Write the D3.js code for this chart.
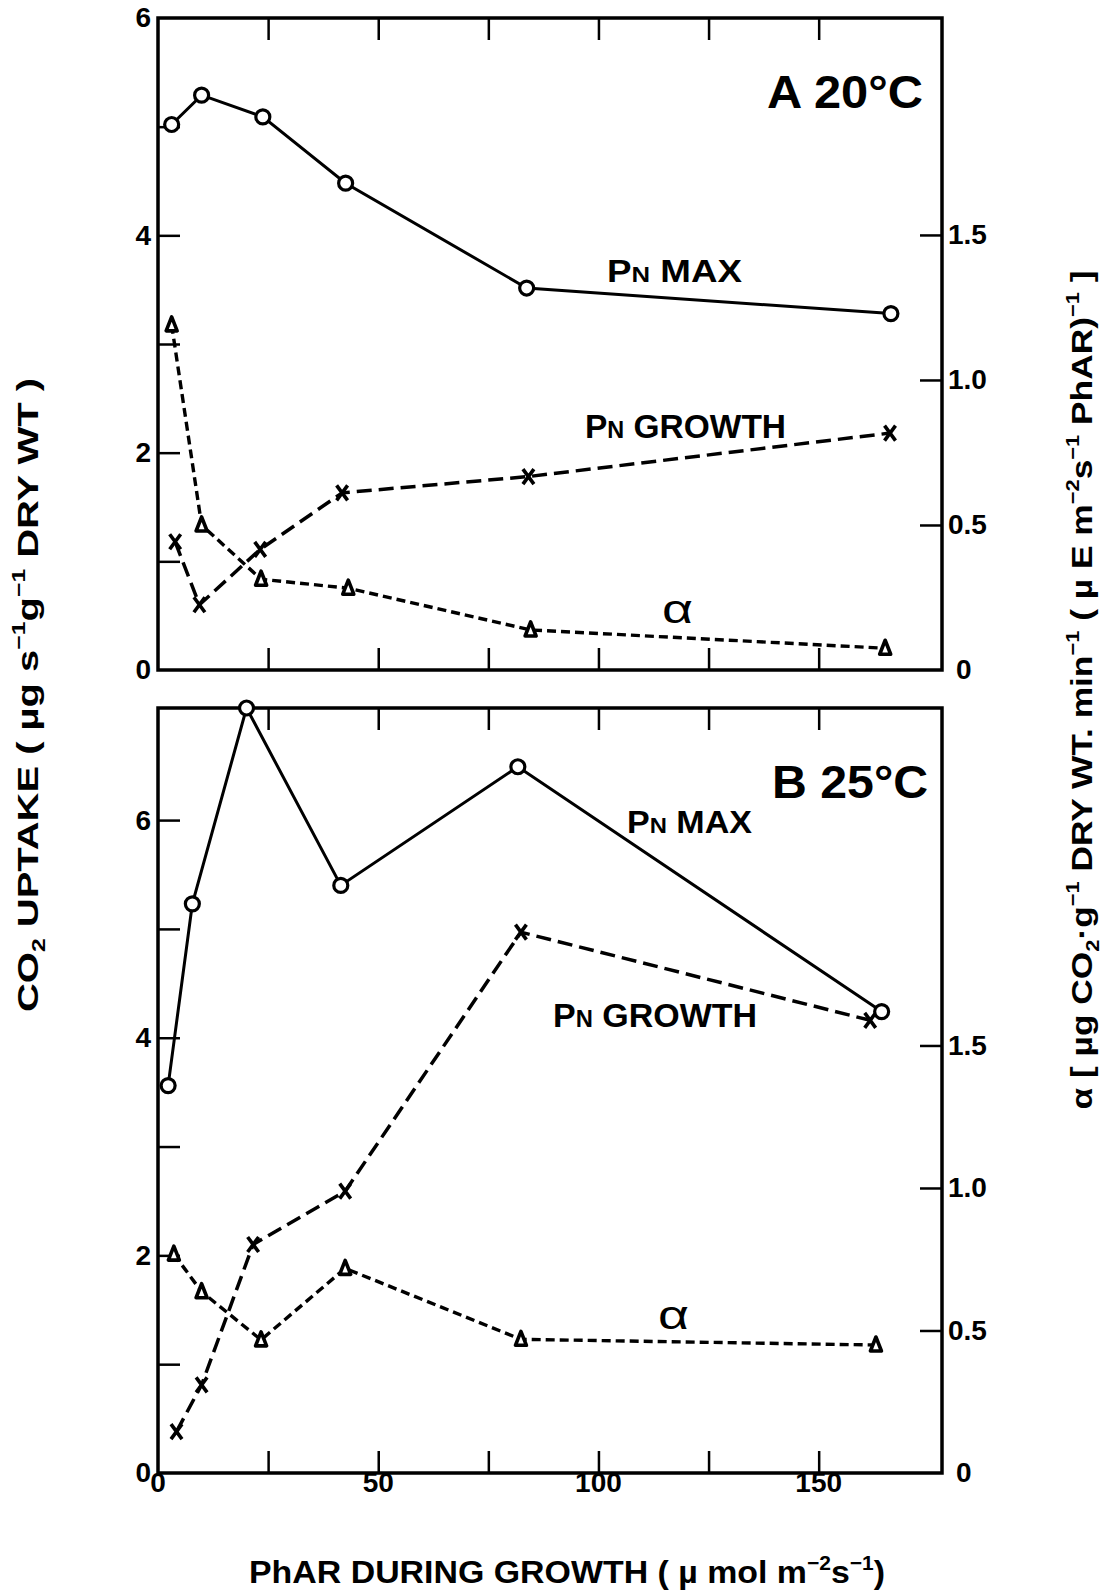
<!DOCTYPE html>
<html>
<head>
<meta charset="utf-8">
<script src="https://cdn.jsdelivr.net/npm/d3@7"></script>
<style>
  html, body { margin: 0; padding: 0; background: #fff; }
  svg { display: block; }
  text { font-family: "Liberation Sans", Arial, Helvetica, sans-serif; fill: #000; }
</style>
</head>
<body>
<svg id="chart" width="1107" height="1595"></svg>
<script>
// ---- Panel A (20 °C) ----
const pharA_pnMax    = [3.1, 9.9, 23.8, 42.6, 83.7, 166.4];
const pnMaxA         = [5.02, 5.29, 5.09, 4.48, 3.515, 3.28];
const pharA_pnGrowth = [3.9, 9.4, 23.2, 41.8, 84.1, 166.2];
const pnGrowthA      = [1.18, 0.60, 1.11, 1.63, 1.78, 2.18];
const pharA_alpha    = [3.1, 9.9, 23.4, 43.2, 84.6, 165.1];
const alphaA         = [1.19, 0.50, 0.313, 0.282, 0.138, 0.075];

// ---- Panel B (25 °C) ----
const pharB_pnMax    = [2.3, 7.8, 20.1, 41.5, 81.7, 164.3];
const pnMaxB         = [3.56, 5.23, 7.03, 5.40, 6.49, 4.24];
const pharB_pnGrowth = [4.2, 9.9, 21.6, 42.5, 82.4, 161.7];
const pnGrowthB      = [0.38, 0.81, 2.10, 2.59, 4.97, 4.16];
const pharB_alpha    = [3.6, 9.9, 23.4, 42.5, 82.4, 163.0];
const alphaB         = [0.768, 0.636, 0.467, 0.718, 0.469, 0.449];

// ---- ticks ----
const pharTicks      = [25, 50, 75, 100, 125, 150];
const pharLabels     = [0, 50, 100, 150];
const uptakeTicks    = [0, 1, 2, 3, 4, 5, 6];
const uptakeLabels   = [0, 2, 4, 6];
const alphaTicks     = [0, 0.5, 1.0, 1.5];
const alphaLabels    = ["0", "0.5", "1.0", "1.5"];

const svg = d3.select("#chart");

const X0 = 158, X1 = 942;
const x = d3.scaleLinear().domain([0, 178]).range([X0, X1]);

const panels = [
  { top: 18, bottom: 670, leftMax: 6, rightMax: 2.248,
    title: ["A", "20°C"], titleX: 767, titleY: 108,
    pnMax: [pharA_pnMax, pnMaxA], pnGrowth: [pharA_pnGrowth, pnGrowthA], alpha: [pharA_alpha, alphaA],
    maxLab: [607, 282, 135], growLab: [585, 438, 201], alphaLab: [662, 623] },
  { top: 708, bottom: 1473, leftMax: 7.03, rightMax: 2.684,
    title: ["B", "25°C"], titleX: 772, titleY: 798,
    pnMax: [pharB_pnMax, pnMaxB], pnGrowth: [pharB_pnGrowth, pnGrowthB], alpha: [pharB_alpha, alphaB],
    maxLab: [627, 833, 125], growLab: [553, 1027, 204], alphaLab: [658, 1329] }
];

const TICK = 22;
const TICK_FONT = 28;

function richText(sel, parts, size) {
  // parts: [string, kind] with kind "n" | "sup" | "sub" | "sc"
  let shift = 0;
  parts.forEach(([str, kind]) => {
    const t = sel.append("tspan").text(str);
    let target = 0, fs = size;
    if (kind === "sup") { target = -0.42 * size; fs = 0.62 * size; }
    else if (kind === "sub") { target = 0.22 * size; fs = 0.62 * size; }
    else if (kind === "sc") { fs = 0.7 * size; }
    t.attr("font-size", fs).attr("dy", target - shift);
    shift = target;
  });
}

function styleTickText(axisG) {
  axisG.selectAll(".tick text")
    .attr("font-size", TICK_FONT).attr("font-weight", "bold")
    .style("font-family", "'Liberation Sans', Arial, sans-serif").attr("fill", "#000");
}

panels.forEach((p, i) => {
  const yL = d3.scaleLinear().domain([0, p.leftMax]).range([p.bottom, p.top]);
  const yR = d3.scaleLinear().domain([0, p.rightMax]).range([p.bottom, p.top]);
  const g = svg.append("g");

  // left axis (ticks point inward)
  const left = g.append("g").attr("transform", `translate(${X0},0)`)
    .call(d3.axisLeft(yL).tickValues(uptakeTicks).tickSizeInner(-TICK).tickSizeOuter(0).tickPadding(7)
      .tickFormat(d => uptakeLabels.includes(d) ? String(d) : ""));
  left.select(".domain").remove();
  left.selectAll(".tick line").attr("stroke", "#000").attr("stroke-width", 2.5);
  styleTickText(left);
  left.selectAll(".tick").filter(d => d === 0 || (d === 6 && i === 0)).select("line").remove();

  // right axis (alpha)
  const right = g.append("g").attr("transform", `translate(${X1},0)`)
    .call(d3.axisRight(yR).tickValues(alphaTicks).tickSizeInner(-TICK).tickSizeOuter(0).tickPadding(6)
      .tickFormat((d, k) => alphaLabels[k]));
  right.select(".domain").remove();
  right.selectAll(".tick line").attr("stroke", "#000").attr("stroke-width", 2.5);
  styleTickText(right);
  right.selectAll(".tick").filter(d => d === 0).select("line").remove();
  right.selectAll(".tick").filter(d => d === 0).select("text").attr("x", 14);

  // top and bottom x ticks
  const top = g.append("g").attr("transform", `translate(0,${p.top})`)
    .call(d3.axisTop(x).tickValues(pharTicks).tickSizeInner(-TICK).tickSizeOuter(0).tickFormat(""));
  top.select(".domain").remove();
  top.selectAll(".tick line").attr("stroke", "#000").attr("stroke-width", 2.5);

  const bottom = g.append("g").attr("transform", `translate(0,${p.bottom})`)
    .call(d3.axisBottom(x).tickValues(pharTicks).tickSizeInner(-TICK).tickSizeOuter(0).tickFormat(""));
  bottom.select(".domain").remove();
  bottom.selectAll(".tick line").attr("stroke", "#000").attr("stroke-width", 2.5);

  if (i === 1) {
    g.append("g").selectAll("text").data(pharLabels).join("text")
      .attr("x", d => x(d)).attr("y", p.bottom + 19)
      .attr("text-anchor", "middle").attr("font-size", TICK_FONT).attr("font-weight", "bold")
      .text(d => d);
  }

  // frame
  g.append("rect").attr("x", X0).attr("y", p.top)
    .attr("width", X1 - X0).attr("height", p.bottom - p.top)
    .attr("fill", "none").attr("stroke", "#000").attr("stroke-width", 3.5);

  const zip = (xs, ys) => xs.map((v, k) => [v, ys[k]]);
  const lineL = d3.line().x(d => x(d[0])).y(d => yL(d[1]));
  const lineR = d3.line().x(d => x(d[0])).y(d => yR(d[1]));

  const alphaPts = zip(p.alpha[0], p.alpha[1]);
  const growPts = zip(p.pnGrowth[0], p.pnGrowth[1]);
  const maxPts = zip(p.pnMax[0], p.pnMax[1]);

  // alpha: short dashes
  g.append("path").attr("d", lineR(alphaPts)).attr("fill", "none")
    .attr("stroke", "#000").attr("stroke-width", 3.4).attr("stroke-dasharray", "9,5");
  // Pn growth: long dashes
  g.append("path").attr("d", lineL(growPts)).attr("fill", "none")
    .attr("stroke", "#000").attr("stroke-width", 3.5).attr("stroke-dasharray", "15,7");
  // Pn max: solid
  g.append("path").attr("d", lineL(maxPts)).attr("fill", "none")
    .attr("stroke", "#000").attr("stroke-width", 3);

  // triangles
  g.append("g").selectAll("path").data(alphaPts).join("path")
    .attr("transform", d => `translate(${x(d[0])},${yR(d[1])})`)
    .attr("d", "M0,-8L5.5,6L-5.5,6Z")
    .attr("fill", "#fff").attr("stroke", "#000").attr("stroke-width", 3.6).attr("stroke-linejoin", "round");
  // crosses
  g.append("g").selectAll("path").data(growPts).join("path")
    .attr("transform", d => `translate(${x(d[0])},${yL(d[1])})`)
    .attr("d", "M-5.5,-7.5L5.5,7.5M5.5,-7.5L-5.5,7.5")
    .attr("stroke", "#000").attr("stroke-width", 3.6).attr("fill", "none");
  // circles
  g.append("g").selectAll("circle").data(maxPts).join("circle")
    .attr("cx", d => x(d[0])).attr("cy", d => yL(d[1])).attr("r", 7)
    .attr("fill", "#fff").attr("stroke", "#000").attr("stroke-width", 3.2);

  // panel title
  g.append("text").attr("x", p.titleX).attr("y", p.titleY)
    .attr("font-size", 46).attr("font-weight", "bold")
    .attr("textLength", 156).attr("lengthAdjust", "spacingAndGlyphs")
    .text(p.title[0] + " " + p.title[1]);

  // series labels
  const mx = g.append("text").attr("x", p.maxLab[0]).attr("y", p.maxLab[1])
    .attr("font-weight", "bold").attr("textLength", p.maxLab[2]).attr("lengthAdjust", "spacingAndGlyphs");
  richText(mx, [["P", "n"], ["N", "sc"], [" MAX", "n"]], 32);

  const gr = g.append("text").attr("x", p.growLab[0]).attr("y", p.growLab[1])
    .attr("font-weight", "bold").attr("textLength", p.growLab[2]).attr("lengthAdjust", "spacingAndGlyphs");
  richText(gr, [["P", "n"], ["N", "sc"], [" GROWTH", "n"]], 34);

  g.append("text").attr("x", p.alphaLab[0]).attr("y", p.alphaLab[1])
    .attr("font-size", 40).attr("textLength", 31).attr("lengthAdjust", "spacingAndGlyphs")
    .text("α");
});

// axis titles
const lt = svg.append("text")
  .attr("transform", "translate(38,695) rotate(-90)")
  .attr("text-anchor", "middle").attr("font-weight", "bold")
  .attr("textLength", 634).attr("lengthAdjust", "spacingAndGlyphs");
richText(lt, [["CO", "n"], ["2", "sub"], [" UPTAKE ( µg s", "n"], ["−1", "sup"], ["g", "n"], ["−1", "sup"], [" DRY WT )", "n"]], 30);

const rt = svg.append("text")
  .attr("transform", "translate(1092,690) rotate(-90)")
  .attr("text-anchor", "middle").attr("font-weight", "bold")
  .attr("textLength", 839).attr("lengthAdjust", "spacingAndGlyphs");
richText(rt, [["α  [ µg CO", "n"], ["2", "sub"], ["·g", "n"], ["−1", "sup"], [" DRY WT. min", "n"], ["−1", "sup"],
              [" ( µ E m", "n"], ["−2", "sup"], ["s", "n"], ["−1", "sup"], [" PhAR)", "n"], ["−1", "sup"], [" ]", "n"]], 30);

const bt = svg.append("text")
  .attr("x", 567).attr("y", 1583)
  .attr("text-anchor", "middle").attr("font-weight", "bold")
  .attr("textLength", 636).attr("lengthAdjust", "spacingAndGlyphs");
richText(bt, [["PhAR  DURING  GROWTH ( µ mol m", "n"], ["−2", "sup"], ["s", "n"], ["−1", "sup"], [")", "n"]], 32);
</script>
</body>
</html>
